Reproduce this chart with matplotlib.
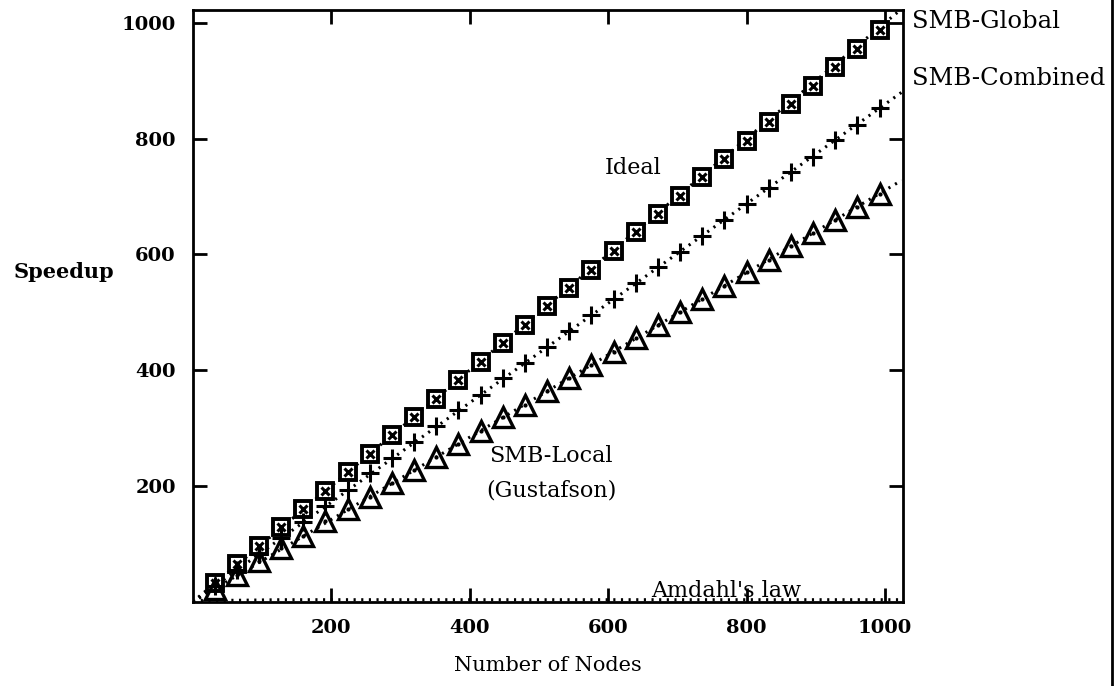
import matplotlib.pyplot as plt
from matplotlib.lines import Line2D

# node counts where the runs were measured
nodes = [32, 64, 96, 128, 160, 192, 224, 256, 288, 320, 352, 384, 416, 448, 480, 512,
         544, 576, 608, 640, 672, 704, 736, 768, 800, 832, 864, 896, 928, 960, 992]

smb_global = [33, 65, 97, 129, 161, 192, 224, 256, 288, 320, 351, 383, 415, 447, 479, 511,
              542, 574, 606, 638, 669, 701, 733, 764, 796, 828, 860, 891, 923, 955, 987]
smb_combined = [28, 56, 83, 111, 139, 166, 194, 222, 249, 276, 304, 331, 358, 386, 413, 441,
                468, 495, 523, 550, 578, 605, 632, 660, 687, 714, 742, 769, 797, 824, 852]
smb_local = [23, 46, 70, 93, 114, 140, 160, 182, 205, 228, 250, 273, 296, 319, 341, 364,
             387, 410, 432, 455, 478, 500, 523, 546, 569, 591, 614, 637, 660, 682, 705]

# dotted model lines
model_nodes = [0, 1024]
ideal_line = [0, 1024]
combined_line = [0, 880]
local_line = [0, 728]
amdahl_nodes = [1, 16, 32, 64, 128, 256, 512, 768, 1024]
amdahl_line = [1, 3, 3, 3, 4, 4, 4, 4, 4]

xticks = [200, 400, 600, 800, 1000]
yticks = [200, 400, 600, 800, 1000]

plt.rcParams['font.family'] = 'DejaVu Serif'

fig = plt.figure(figsize=(11.2, 6.86), dpi=100)
ax = fig.add_axes([0.1719, 0.1224, 0.6344, 0.863])

dot = dict(color='black', lw=2.2, dashes=(0.7, 1.8))
ax.plot(model_nodes, ideal_line, **dot)
ax.plot(model_nodes, combined_line, **dot)
ax.plot(model_nodes, local_line, **dot)
ax.plot(amdahl_nodes, amdahl_line, **dot)

# boxed x
ax.plot(nodes, smb_global, ls='none', marker='s', ms=12, mfc='white', mec='black', mew=2.8)
ax.plot(nodes, smb_global, ls='none', marker='x', ms=6, mec='black', mew=2.2)
# plus
ax.plot(nodes, smb_combined, ls='none', marker='+', ms=13, mec='black', mew=2.2)
# triangle with dot
ax.plot(nodes, smb_local, ls='none', marker='^', ms=15, mfc='none', mec='black', mew=2.4)
ax.plot(nodes, smb_local, ls='none', marker='.', ms=4, color='black')

ax.set_xlim(0, 1026)
ax.set_ylim(0, 1022)
ax.set_xticks(xticks)
ax.set_yticks(yticks)
ax.tick_params(direction='in', length=10, width=2, top=True, right=True,
               labelsize=14, pad=12)
for lbl in ax.get_xticklabels() + ax.get_yticklabels():
    lbl.set_fontweight('bold')
for s in ax.spines.values():
    s.set_linewidth(2)

ax.set_xlabel('Number of Nodes', fontsize=15, labelpad=14)
fig.text(0.057, 1 - 272 / 686, 'Speedup', fontsize=15, fontweight='bold',
         ha='center', va='center')

ax.text(636, 750, 'Ideal', fontsize=16, ha='center', va='center')
ax.text(518, 252, 'SMB-Local', fontsize=16, ha='center', va='center')
ax.text(518, 192, '(Gustafson)', fontsize=16, ha='center', va='center')
ax.text(770, 0, "Amdahl's law", fontsize=16, ha='center', va='bottom')
ax.text(1039, 1002, 'SMB-Global', fontsize=17.5, ha='left', va='center', clip_on=False)
ax.text(1039, 903, 'SMB-Combined', fontsize=17.5, ha='left', va='center', clip_on=False)

# page border on the right
fig.add_artist(Line2D([1112 / 1120, 1112 / 1120], [0.0, 1.0], color='black', lw=2))

plt.savefig('out.png', dpi=100)
